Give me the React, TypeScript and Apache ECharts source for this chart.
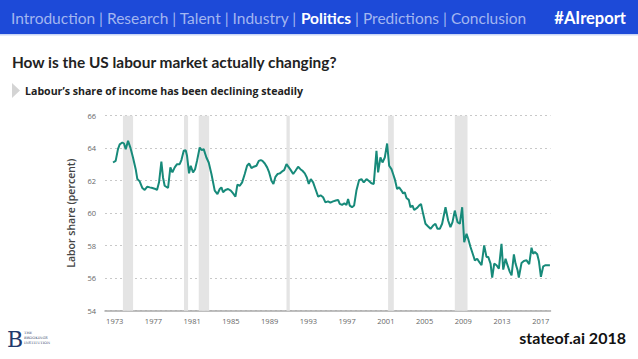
import React, { useEffect, useRef } from "react";
import * as echarts from "echarts";

const years = [
  1972.83, 1973.1, 1973.34, 1973.52, 1973.79, 1973.96, 1974.14, 1974.38, 1974.62, 1974.89,
  1975.17, 1975.34, 1975.58, 1975.86, 1976.1, 1976.37, 1976.62, 1976.89, 1977.13, 1977.37,
  1977.58, 1977.82, 1977.99, 1978.16, 1978.51, 1978.75, 1978.96, 1979.2, 1979.44, 1979.71,
  1979.89, 1980.13, 1980.33, 1980.47, 1980.68, 1980.85, 1981.09, 1981.3, 1981.5, 1981.78,
  1981.99, 1982.19, 1982.47, 1982.71, 1982.99, 1983.33, 1983.61, 1983.85, 1984.02, 1984.19,
  1984.43, 1984.71, 1984.99, 1985.23, 1985.47, 1985.67, 1985.92, 1986.16, 1986.43, 1986.67,
  1986.88, 1987.12, 1987.36, 1987.64, 1987.88, 1988.09, 1988.26, 1988.5, 1988.74, 1988.95,
  1989.19, 1989.39, 1989.6, 1989.81, 1990.05, 1990.29, 1990.5, 1990.74, 1990.98, 1991.18,
  1991.43, 1991.67, 1991.94, 1992.18, 1992.39, 1992.63, 1992.84, 1993.04, 1993.25, 1993.49,
  1993.73, 1994.01, 1994.26, 1994.52, 1994.76, 1995.03, 1995.27, 1995.55, 1995.83, 1996.07,
  1996.24, 1996.48, 1996.72, 1996.93, 1997.1, 1997.27, 1997.51, 1997.72, 1997.96, 1998.24,
  1998.48, 1998.72, 1999.0, 1999.23, 1999.51, 1999.75, 2000.03, 2000.2, 2000.44, 2000.65,
  2000.89, 2001.13, 2001.34, 2001.58, 2001.75, 2001.92, 2002.16, 2002.37, 2002.61, 2002.78,
  2002.95, 2003.13, 2003.37, 2003.54, 2003.75, 2003.92, 2004.09, 2004.23, 2004.43, 2004.63,
  2004.85, 2005.09, 2005.37, 2005.61, 2005.88, 2006.12, 2006.33, 2006.57, 2006.81, 2007.16,
  2007.43, 2007.67, 2007.88, 2008.12, 2008.4, 2008.64, 2008.88, 2009.09, 2009.33, 2009.5,
  2009.74, 2010.02, 2010.19, 2010.43, 2010.64, 2010.88, 2011.15, 2011.39, 2011.57, 2011.81,
  2011.98, 2012.19, 2012.43, 2012.67, 2012.94, 2013.12, 2013.36, 2013.56, 2013.8, 2013.98,
  2014.22, 2014.39, 2014.6, 2014.73, 2015.01, 2015.25, 2015.53, 2015.8, 2016.04, 2016.21,
  2016.39, 2016.63, 2016.8, 2017.01, 2017.25, 2017.49, 2017.94,
];

const laborShare = [
  63.12, 63.22, 63.94, 64.24, 64.35, 64.29, 63.94, 64.45, 64.04, 63.43,
  62.71, 62.1, 61.96, 61.55, 61.43, 61.63, 61.59, 61.55, 61.51, 61.43,
  61.9, 63.18, 62.2, 61.69, 61.55, 62.82, 62.51, 62.82, 63.02, 63.02,
  63.27, 63.84, 63.88, 63.53, 62.45, 62.92, 62.51, 62.71, 63.22, 64.04,
  63.88, 63.94, 63.43, 63.12, 62.41, 61.39, 61.18, 61.49, 61.59, 61.29,
  61.43, 61.49, 61.39, 61.22, 61.02, 61.76, 61.69, 61.9, 62.41, 62.92,
  63.06, 62.78, 62.86, 62.92, 63.22, 63.27, 63.22, 63.06, 62.82, 62.51,
  62.0, 61.8, 62.24, 62.41, 62.45, 62.57, 62.65, 63.02, 62.82, 62.65,
  62.41, 62.61, 62.86, 62.71, 62.61, 62.45, 62.2, 61.8, 62.1, 61.9,
  61.49, 61.02, 61.1, 60.98, 60.67, 60.73, 60.65, 60.73, 60.78, 60.82,
  60.57, 60.51, 60.61, 60.51, 60.88, 60.47, 60.37, 60.47, 61.39, 62.04,
  62.1, 61.9, 62.1, 62.0, 61.84, 61.8, 63.84, 62.51, 63.43, 63.12,
  63.43, 64.29, 62.92, 62.71, 62.41, 62.1, 61.49, 61.59, 61.39, 61.22,
  61.29, 60.94, 60.82, 60.37, 60.47, 60.2, 60.27, 60.33, 60.47, 60.57,
  59.96, 59.35, 59.18, 59.04, 59.24, 59.35, 59.04, 59.04, 59.35, 60.37,
  59.55, 59.14, 59.45, 60.16, 59.45, 59.35, 60.37, 58.22, 58.73, 58.43,
  57.92, 57.41, 57.1, 57.2, 57.0, 56.8, 58.02, 57.31, 57.31, 56.9,
  56.04, 56.9, 56.8, 56.59, 58.12, 56.53, 57.2, 56.8, 56.39, 56.18,
  57.47, 56.9, 56.49, 56.04, 56.94, 57.06, 57.1, 56.86, 57.88, 57.51,
  57.61, 57.47, 57.06, 56.08, 56.73, 56.8, 56.8,
];

const recessionStarts = [1973.85, 1980.16, 1981.68, 1990.74, 2001.23, 2008.12];
const recessionEnds = [1974.9, 1980.58, 1982.75, 1991.08, 2001.82, 2009.43];

const xTickYears = [1973, 1977, 1981, 1985, 1989, 1993, 1997, 2001, 2005, 2009, 2013, 2017];

const navBefore = "Introduction | Research | Talent | Industry | ";
const navActive = "Politics";
const navAfter = " | Predictions | Conclusion";
const hashtag = "#AIreport";
const title = "How is the US labour market actually changing?";
const subtitle = "Labour\u2019s share of income has been declining steadily";
const footer = "stateof.ai 2018";
const yAxisName = "Labor share (percent)";
const logoLines = ["THE", "BROOKINGS", "INSTITUTION"];

export default function App() {
  const ref = useRef<HTMLDivElement>(null);

  useEffect(() => {
    document.body.style.margin = "0";
    if (!ref.current) return;
    const chart = echarts.init(ref.current, null, { renderer: "svg" });

    const lineData = years.map((y, i) => [y, laborShare[i]]);
    const areas = recessionStarts.map((s, i) => [{ xAxis: s }, { xAxis: recessionEnds[i] }]);

    chart.setOption({
      animation: false,
      backgroundColor: "#ffffff",
      grid: { left: 105, right: 87.5, top: 115.7, bottom: 48.3, containLabel: false },
      xAxis: {
        type: "value",
        min: 1972,
        max: 2018,
        axisLine: { show: true, lineStyle: { color: "#a9a9a9", width: 1.5 } },
        axisTick: { show: false },
        splitLine: { show: false },
        axisLabel: {
          customValues: xTickYears,
          formatter: (v: number) => String(v),
          color: "#666666",
          fontSize: 7.5,
          fontFamily: "Liberation Sans Narrow, Open Sans, sans-serif",
          margin: 6,
        },
      },
      yAxis: {
        type: "value",
        min: 54,
        max: 66,
        interval: 2,
        name: yAxisName,
        nameLocation: "middle",
        nameGap: 26,
        nameRotate: 90,
        nameTextStyle: {
          color: "#444444",
          fontSize: 10.5,
          fontWeight: 600,
          fontFamily: "Open Sans, sans-serif",
        },
        axisLine: { show: false },
        axisTick: { show: false },
        splitLine: { show: true, lineStyle: { color: "#c8c8c8", type: [2, 3], width: 1 } },
        axisLabel: {
          color: "#666666",
          fontSize: 7.5,
          fontFamily: "Liberation Sans Narrow, Open Sans, sans-serif",
          margin: 9,
        },
      },
      series: [
        {
          type: "line",
          data: lineData,
          showSymbol: false,
          symbol: "none",
          lineStyle: { color: "#178a7a", width: 2 },
          z: 3,
          markArea: {
            silent: true,
            itemStyle: { color: "#e4e4e4" },
            data: areas,
          },
        },
      ],
      graphic: [
        { type: "rect", shape: { x: 0, y: 0, width: 638, height: 34 }, style: { fill: "#1d4ad8" } },
        { type: "rect", shape: { x: 0, y: 34, width: 638, height: 1.5 }, style: { fill: "#c9d6f5" } },
        {
          type: "text",
          x: 11,
          y: 18,
          style: {
            text: `{a|${navBefore}}{b|${navActive}}{a|${navAfter}}`,
            verticalAlign: "middle",
            rich: {
              a: { fill: "#a3b6f0", fontSize: 15.5, fontFamily: "Lato, sans-serif" },
              b: { fill: "#ffffff", fontSize: 15.5, fontWeight: "bold", fontFamily: "Lato, sans-serif" },
            },
          },
        },
        {
          type: "text",
          x: 626,
          y: 18,
          style: {
            text: hashtag,
            fill: "#ffffff",
            fontSize: 16.5,
            fontWeight: "bold",
            fontFamily: "Lato, sans-serif",
            align: "right",
            verticalAlign: "middle",
          },
        },
        {
          type: "text",
          x: 12,
          y: 62,
          style: {
            text: title,
            fill: "#222222",
            fontSize: 15.4,
            fontWeight: "bold",
            fontFamily: "Lato, sans-serif",
            verticalAlign: "middle",
          },
        },
        {
          type: "polygon",
          shape: { points: [[12, 83], [20, 90.5], [12, 98]] },
          style: { fill: "#d4d4d4" },
        },
        {
          type: "text",
          x: 25,
          y: 91,
          style: {
            text: subtitle,
            fill: "#222222",
            fontSize: 10.6,
            fontWeight: "bold",
            fontFamily: "Open Sans, sans-serif",
            verticalAlign: "middle",
          },
        },
        {
          type: "text",
          x: 626,
          y: 337,
          style: {
            text: footer,
            fill: "#111111",
            fontSize: 16,
            fontWeight: "bold",
            fontFamily: "Lato, sans-serif",
            align: "right",
            verticalAlign: "middle",
          },
        },
        {
          type: "text",
          x: 7,
          y: 339,
          style: {
            text: "B",
            fill: "#1f3a6e",
            fontSize: 22,
            fontFamily: "DejaVu Serif, serif",
            verticalAlign: "middle",
          },
        },
        ...logoLines.map((t, i) => ({
          type: "text",
          x: 24,
          y: 333 + i * 5,
          style: {
            text: t,
            fill: "#3a4a6e",
            fontSize: 3.6,
            fontFamily: "DejaVu Serif, serif",
            verticalAlign: "middle",
          },
        })),
      ],
    });

    return () => chart.dispose();
  }, []);

  return <div ref={ref} style={{ width: 638, height: 359 }} />;
}
